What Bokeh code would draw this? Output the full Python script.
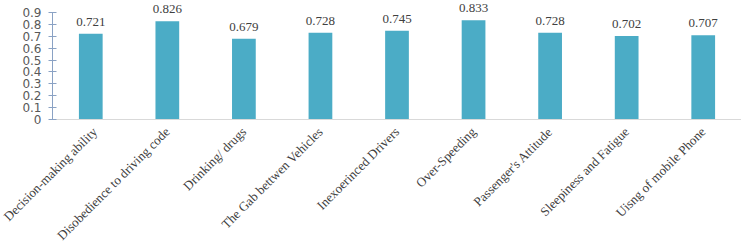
import math
from bokeh.plotting import figure
from bokeh.models import ColumnDataSource, LabelSet, FixedTicker, Range1d
from bokeh.embed import file_html
from bokeh.resources import INLINE

categories = ["Decision-making ability", "Disobedience to driving code", "Drinking/ drugs",
              "The Gab bettwen Vehicles", "Inexoerinced Drivers", "Over-Speeding",
              "Passenger's Attitude", "Sleepiness and Fatigue", "Uisng of mobile Phone"]
values = [0.721, 0.826, 0.679, 0.728, 0.745, 0.833, 0.728, 0.702, 0.707]
y_ticks = [0, 0.1, 0.2, 0.3, 0.4, 0.5, 0.6, 0.7, 0.8, 0.9]

src = ColumnDataSource(dict(cat=categories, val=values,
                            lab=["%.3f" % v for v in values]))

p = figure(x_range=categories, y_range=Range1d(0, 1.0),
           width=741, height=252,
           output_backend="svg", toolbar_location=None,
           min_border_left=52, min_border_top=0, min_border_right=0, min_border_bottom=133)
p.outline_line_color = None
p.xgrid.grid_line_color = None
p.ygrid.grid_line_color = None
p.background_fill_color = "white"
p.border_fill_color = "white"

p.vbar(x="cat", top="val", width=0.31, source=src, fill_color="#4BACC6", line_color=None)

labels = LabelSet(x="cat", y="val", text="lab", source=src, y_offset=8,
                  text_align="center", text_baseline="alphabetic",
                  text_font="Liberation Serif", text_font_size="13px", text_color="#404040")
p.add_layout(labels)

p.yaxis.ticker = FixedTicker(ticks=y_ticks)
p.yaxis.bounds = (0, 0.9)
p.yaxis.major_label_overrides = {0: "0"}
p.yaxis.axis_line_color = "#8aa2c4"
p.yaxis.major_tick_line_color = "#8aa2c4"
p.yaxis.major_tick_in = 4
p.yaxis.major_tick_out = 4
p.yaxis.minor_tick_line_color = None
p.yaxis.major_label_standoff = 7
p.yaxis.major_label_text_font = "DejaVu Sans"
p.yaxis.major_label_text_font_size = "12px"
p.yaxis.major_label_text_color = "#595959"

p.xaxis.axis_line_color = "#d9d9d9"
p.xaxis.major_tick_line_color = None
p.xaxis.major_tick_out = 0
p.xaxis.major_tick_in = 0
p.xaxis.minor_tick_line_color = None
p.xaxis.major_label_orientation = math.pi / 4
p.xaxis.major_label_standoff = 10
p.xaxis.major_label_text_font = "Liberation Serif"
p.xaxis.major_label_text_font_size = "13px"
p.xaxis.major_label_text_color = "#404040"

open("out.html", "w").write(file_html(p, INLINE))
